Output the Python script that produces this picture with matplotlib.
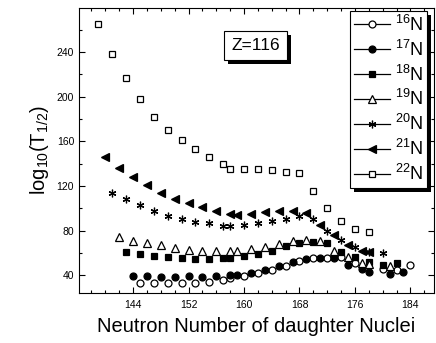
import matplotlib
matplotlib.use("Agg")
import matplotlib.pyplot as plt
from matplotlib.lines import Line2D
from matplotlib.patches import Rectangle
from matplotlib.ticker import MultipleLocator

plt.rcParams['font.family'] = ['Liberation Sans', 'DejaVu Sans']
plt.rcParams['mathtext.fontset'] = 'custom'
plt.rcParams['mathtext.rm'] = 'Liberation Sans'
plt.rcParams['mathtext.it'] = 'Liberation Sans'
plt.rcParams['mathtext.default'] = 'regular'

# ---- data ----
n16 = [145, 147, 149, 151, 153, 155, 157, 158, 160, 162, 164, 166, 168, 170, 172, 174, 176, 180, 182, 184]
v16 = [33.4, 33.4, 33.4, 33.4, 33.4, 34.3, 35.8, 37.3, 39.4, 41.8, 44.7, 48.6, 53, 55.8, 55.8, 56.1, 51.3, 45.4, 44.7, 49.2]

n17 = [144, 146, 148, 150, 152, 154, 156, 158, 159, 161, 163, 165, 167, 169, 171, 173, 175, 177, 178, 181, 183]
v17 = [39.5, 39.2, 38.7, 38.8, 39.3, 38.5, 39.1, 40, 40.6, 42.1, 44.9, 48, 52, 54.3, 55.5, 55.8, 49.2, 45.4, 43, 40.8, 42.8]

n18 = [143, 145, 147, 149, 151, 153, 155, 157, 158, 160, 162, 164, 166, 168, 170, 172, 174, 176, 178, 180, 182]
v18 = [60.6, 58.9, 57.5, 56.4, 55.2, 54.8, 54.8, 55.2, 55.2, 57.5, 59.1, 62.2, 66.2, 69.2, 69.5, 68.6, 61.3, 56.1, 52.2, 49.7, 50.7]

n19 = [142, 144, 146, 148, 150, 152, 154, 156, 158, 159, 161, 163, 165, 167, 169, 171, 173, 175, 177, 178, 181]
v19 = [74.6, 71.2, 68.9, 66.9, 64.2, 62.9, 62.2, 61.5, 61.5, 61.5, 63.4, 65.6, 68.3, 70.9, 71.9, 71.2, 62.2, 56.1, 51, 50.1, 48.8]

n20 = [141, 143, 145, 147, 149, 151, 153, 155, 157, 158, 160, 162, 164, 166, 168, 170, 172, 174, 176, 178, 180]
v20 = [114, 108, 102.9, 97.8, 93.1, 90.4, 88, 86.6, 84.4, 84.1, 84.8, 86.6, 88.9, 90.4, 92.9, 90.4, 79.7, 71.3, 65.6, 60.9, 59.7]

n21 = [140, 142, 144, 146, 148, 150, 152, 154, 156, 158, 159, 161, 163, 165, 167, 169, 171, 173, 175, 177, 178]
v21 = [146.2, 136, 128.3, 120.8, 113.7, 108.6, 104.7, 100.9, 97.6, 94.9, 94, 94.9, 97.1, 97.6, 98, 96.2, 85.5, 76.1, 67.6, 62.2, 60.6]

n22 = [139, 141, 143, 145, 147, 149, 151, 153, 155, 157, 158, 160, 162, 164, 166, 168, 170, 172, 174, 176, 178]
v22 = [265, 238.7, 216.9, 198.1, 182, 170.3, 160.9, 153.3, 145.6, 139.6, 135.2, 134.9, 134.9, 134.3, 132.2, 131.3, 115.5, 100.7, 88.6, 81.5, 79]

labels = [r'$^{16}$N', r'$^{17}$N', r'$^{18}$N', r'$^{19}$N', r'$^{20}$N', r'$^{21}$N', r'$^{22}$N']
x_ticks = [144, 152, 160, 168, 176, 184]
y_ticks = [40, 80, 120, 160, 200, 240]

series = [(n16, v16), (n17, v17), (n18, v18), (n19, v19), (n20, v20), (n21, v21), (n22, v22)]
styles = [
    dict(marker='o', mfc='white', mec='black', ms=5.0),
    dict(marker='o', mfc='black', mec='black', ms=5.0),
    dict(marker='s', mfc='black', mec='black', ms=4.6),
    dict(marker='^', mfc='white', mec='black', ms=5.5),
    dict(marker=(6, 2, 0), mfc='black', mec='black', ms=5.5),
    dict(marker='<', mfc='black', mec='black', ms=6.0),
    dict(marker='s', mfc='white', mec='black', ms=4.6),
]

fig = plt.figure(figsize=(4.36, 3.43), dpi=100)
ax = fig.add_axes([79/436, 1-293/343, 355/436, 285/343])

for (n, v), st in zip(series, styles):
    ax.plot(n, v, linestyle='none', mew=0.9, **st)

ax.set_xlim(136.2, 187.4)
ax.set_ylim(24.2, 279.5)
ax.set_xticks(x_ticks)
ax.set_yticks(y_ticks)
ax.xaxis.set_minor_locator(MultipleLocator(2))
ax.yaxis.set_minor_locator(MultipleLocator(20))
ax.tick_params(which='both', direction='in', top=True, right=True, labelsize=7.5, width=0.8)
ax.tick_params(which='major', length=4)
ax.tick_params(which='minor', length=2)
ax.tick_params(axis='x', pad=5)
for s in ax.spines.values():
    s.set_linewidth(0.8)

ax.set_xlabel('Neutron Number of daughter Nuclei', fontsize=14.5, labelpad=5)
ax.set_ylabel(r'log$_{10}$(T$_{1/2}$)', fontsize=14.5, labelpad=4)

handles = [Line2D([0], [0], color='black', lw=0.9, mew=0.9, **st) for st in styles]
leg = ax.legend(handles, labels, loc='upper right', bbox_to_anchor=(0.981, 0.99),
                borderaxespad=0, fancybox=False, framealpha=1, edgecolor='black',
                fontsize=13, handlelength=2.0, handletextpad=0.3, labelspacing=0.27,
                borderpad=0.2)
leg.get_frame().set_linewidth(0.8)

txt = ax.text(0.497, 0.868, 'Z=116', transform=ax.transAxes, ha='center', va='center',
              fontsize=12.5, zorder=6,
              bbox=dict(boxstyle='square,pad=0.42', fc='white', ec='black', lw=0.8))

fig.canvas.draw()
bb = leg.get_window_extent()
ax.add_artist(Rectangle((bb.x0 + 4, bb.y0 - 4), bb.width, bb.height, transform=None,
                        facecolor='black', edgecolor='none', zorder=4.5))
tb = txt.get_bbox_patch().get_window_extent()
ax.add_artist(Rectangle((tb.x0 + 4, tb.y0 - 4), tb.width, tb.height, transform=None,
                        facecolor='black', edgecolor='none', zorder=5.5))

fig.savefig('out.png', dpi=100)
